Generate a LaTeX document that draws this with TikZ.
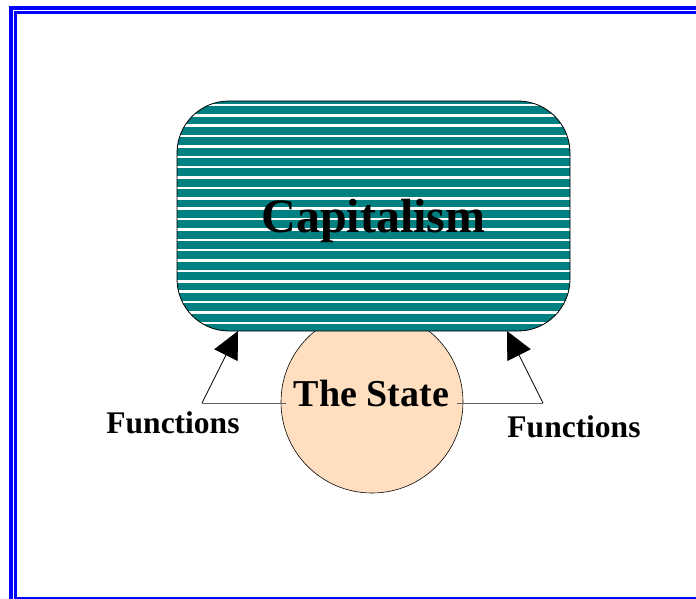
\documentclass[tikz,border=0pt]{standalone}
\usepackage{fontspec}
\setmainfont{Liberation Serif}
\usetikzlibrary{arrows.meta}
\definecolor{frameblue}{HTML}{0000FF}
\definecolor{capteal}{HTML}{008080}
\definecolor{statepeach}{HTML}{FFDFC0}
\definecolor{calloutgray}{HTML}{606060}

\begin{document}
\begin{tikzpicture}[x=1pt, y=-1pt,
  bigword/.style={font=\fontsize{#1}{#1}\selectfont\bfseries, text depth=0pt, inner sep=0pt},
  stripe/.style={white, line width=2.5pt},
  callout/.style={line width=0.8pt, -{Triangle[length=27pt, width=26pt]}},
  leader/.style={calloutgray, line width=0.8pt}]
  \useasboundingbox (0,0) rectangle (696,599);
  \clip (0,0) rectangle (696,599);

  % double blue frame
  \draw[frameblue, line width=4pt] (11,8) rectangle (720,620);
  \draw[frameblue, line width=3pt] (15.5,12.5) rectangle (720,598.5);

  \node[circle, draw, line width=0.6pt, fill=statepeach, minimum size=182pt, inner sep=0pt] (state) at (372,402) {};

  % teal box with white horizontal stripes
  \node[draw, line width=0.8pt, fill=capteal, rounded corners=52pt, minimum width=393pt, minimum height=230pt, bigword=48,
    path picture={\foreach \k in {0,...,21}
      \draw[stripe] ([yshift={-4pt-10.37pt*\k}]path picture bounding box.north west)
        -- ([yshift={-4pt-10.37pt*\k}]path picture bounding box.north east);}]
    (capital) at (373.5,216) {Capitalism};

  \node[bigword=38, inner sep=8pt] (stateText) at (371.5,393.5) {The State};
  \node[bigword=31.5] (funcL) at (173,423) {Functions};
  \node[bigword=31.5] (funcR) at (574,427) {Functions};

  \coordinate (bendL) at (202,403);
  \coordinate (bendR) at (543,403);
  \coordinate (tipL) at (238,331);
  \coordinate (tipR) at (507,331);

  \draw[leader] (stateText.west |- bendL) -- (bendL);
  \draw[callout] (bendL) -- (tipL);
  \draw[leader] (stateText.east |- bendR) -- (bendR);
  \draw[callout] (bendR) -- (tipR);
\end{tikzpicture}
\end{document}
